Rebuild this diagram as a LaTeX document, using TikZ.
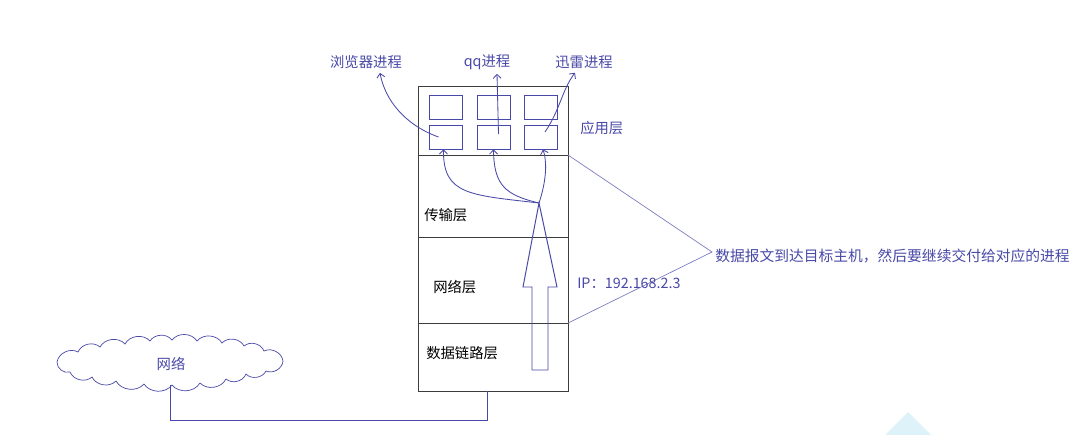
\documentclass[tikz,border=0pt]{standalone}
\usepackage{fontspec}
\setmainfont{Noto Sans CJK SC}
\usetikzlibrary{positioning,arrows.meta,calc}
\definecolor{procc}{RGB}{72,72,168}
\definecolor{annoc}{RGB}{125,125,192}
\definecolor{framec}{RGB}{60,60,60}
\definecolor{markc}{RGB}{222,242,250}
\tikzset{
  layerbox/.style = {draw=framec, line width=0.7pt, minimum width=3.725cm,
                     inner sep=0pt, outer sep=0pt},
  procbox/.style  = {draw=procc, line width=0.6pt, minimum width=0.825cm,
                     minimum height=0.6cm, inner sep=0pt},
  lbl/.style      = {font=\fontsize{10.2}{12}\selectfont, inner sep=0pt},
  proc/.style     = {lbl, text=procc},
  hop/.style      = {-{Straight Barb[length=1mm,width=2mm]}, draw=procc, line width=0.6pt},
  bigarrow/.style = {draw=procc, line width=0.7pt},
  anno/.style     = {draw=annoc, line width=0.5pt},
  wire/.style     = {draw=procc, line width=0.6pt},
  puffline/.style = {draw=procc, line width=0.5pt},
}
\begin{document}
\begin{tikzpicture}[x=0.025cm, y=-0.025cm]
\useasboundingbox (0,0) rectangle (1081,435);

% ---------- protocol stack ----------
\node[layerbox, minimum height=1.725cm] (app) at (493.5,120.5) {};
\node[layerbox, minimum height=2.05cm, below=0pt of app] (trans) {};
\node[layerbox, minimum height=2.15cm, below=0pt of trans] (net) {};
\node[layerbox, minimum height=1.7cm, below=0pt of net] (link) {};
\node[proc, anchor=west] (appl) at (580,128) {应用层};
\node[lbl, anchor=west] (transl) at (424,215) {传输层};
\node[lbl, anchor=west] (netl) at (433,287) {网络层};
\node[lbl, anchor=west] (linkl) at (426,353) {数据链路层};

% ---------- processes ----------
\foreach \c/\x in {1/445.5,2/493.5,3/541}{
  \node[procbox] (u\c) at (\x,107) {};
  \node[procbox] (d\c) at (\x,137) {};
}
\node[proc] (p1) at (366,62) {浏览器进程};
\node[proc] (p2) at (487,62) {qq进程};
\node[proc] (p3) at (584,62) {迅雷进程};
\draw[hop] ($(d1.center)+(-7,0)$) .. controls (405,125) and (385,100) .. ($(p1.south)+(14,4)$);
\draw[hop] ($(d2.center)+(5,-3)$) -- ($(p2.south)+(10,4)$);
\draw[hop] ($(d3.center)+(4,-5)$) .. controls (560,110) and (562,90) .. ($(p3.south)+(-9,4)$);

% ---------- delivery upwards ----------
\coordinate (tip) at (539,203);
\draw[bigarrow] (tip) -- (557,287) -- (548,287) -- (548,370) -- (532,370)
  -- (532,287) -- (523,287) -- cycle;
\draw[hop] (tip) .. controls (470,195) and (443,195) .. ($(d1.south)+(-2,0)$);
\draw[hop] (tip) .. controls (505,195) and (494,185) .. (d2.south);
\draw[hop] (tip) .. controls (545,185) and (548,165) .. ($(d3.south)+(2,0)$);

% ---------- annotation ----------
\coordinate (meet) at (712,252);
\node[proc, anchor=west, font=\fontsize{10.5}{12}\selectfont] (ann) at (715,256)
  {数据报文到达目标主机，然后要继续交付给对应的进程};
\draw[anno] (app.south east) -- (meet) -- (link.north east);
\node[proc, anchor=west] (ip) at (577,283) {IP：192.168.2.3};

% ---------- network ----------
\draw[puffline] (57,362)
  \foreach \x/\y in {78/352, 100/347, 125/344, 150/341, 172/340, 197/341, 222/343,
                     244/346, 264/351, 283/361, 266/371, 246/374, 226/379, 200/383,
                     172/385, 144/384, 116/381, 92/377, 70/372}
  { to[bend left=55] (\x,\y) } to[bend left=55] (57,362);
\node[proc] (web) at (171,364) {网络};
\coordinate (webfoot) at (170,385);
\draw[wire] (webfoot) -- ++(0,35) -| ($(link.south)+(-6.5,0)$);

\fill[markc] (885,435) -- (908,412) -- (931,435) -- cycle;

\end{tikzpicture}
\end{document}
